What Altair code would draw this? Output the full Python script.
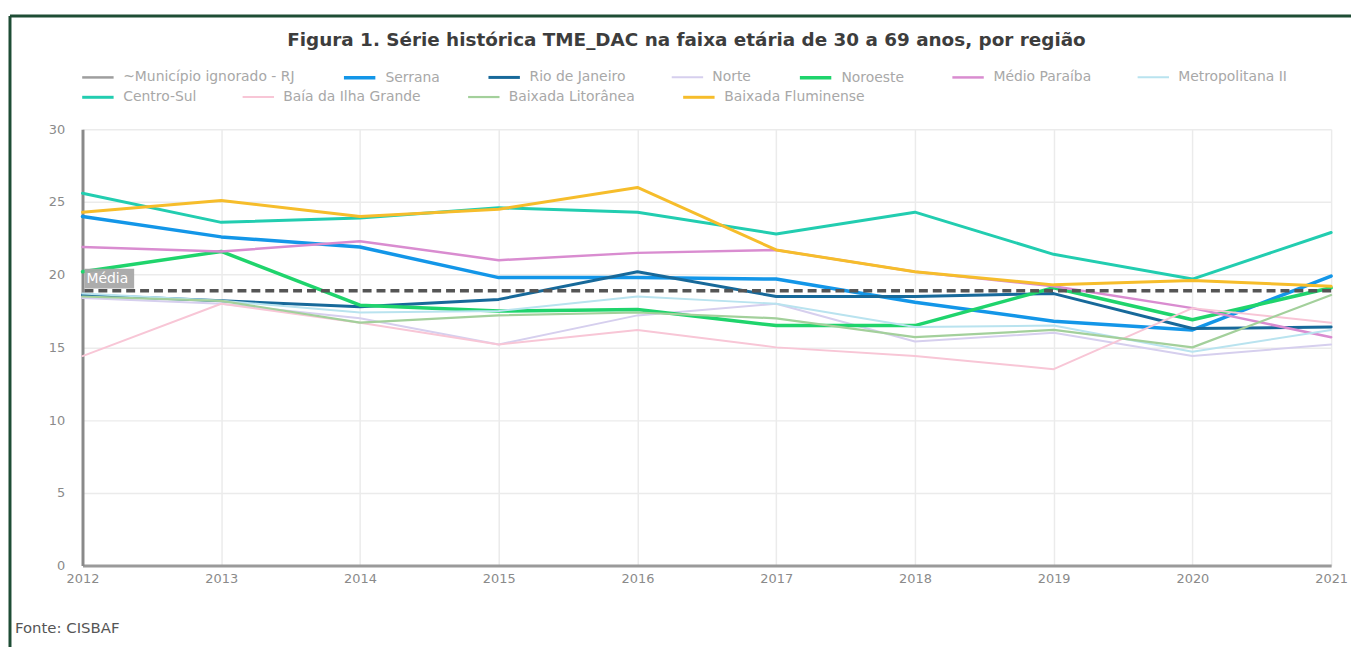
import altair as alt
import pandas as pd

years = [2012, 2013, 2014, 2015, 2016, 2017, 2018, 2019, 2020, 2021]

legend_row1 = ["~Município ignorado - RJ", "Serrana", "Rio de Janeiro", "Norte",
               "Noroeste", "Médio Paraíba", "Metropolitana II"]
legend_row2 = ["Centro-Sul", "Baía da Ilha Grande", "Baixada Litorânea",
               "Baixada Fluminense"]

serrana = [24.0, 22.6, 21.9, 19.8, 19.8, 19.7, 18.1, 16.8, 16.2, 19.9]
rio_de_janeiro = [18.6, 18.2, 17.8, 18.3, 20.2, 18.5, 18.5, 18.7, 16.3, 16.4]
norte = [18.4, 18.0, 17.0, 15.2, 17.2, 18.0, 15.4, 16.0, 14.4, 15.2]
noroeste = [20.2, 21.6, 17.9, 17.5, 17.6, 16.5, 16.5, 19.1, 16.9, 19.1]
medio_paraiba = [21.9, 21.6, 22.3, 21.0, 21.5, 21.7, 20.2, 19.2, 17.7, 15.7]
metropolitana_ii = [18.7, 18.2, 17.4, 17.5, 18.5, 18.0, 16.4, 16.5, 14.7, 16.2]
centro_sul = [25.6, 23.6, 23.9, 24.6, 24.3, 22.8, 24.3, 21.4, 19.7, 22.9]
baia_ilha_grande = [14.4, 18.0, 16.7, 15.2, 16.2, 15.0, 14.4, 13.5, 17.7, 16.7]
baixada_litoranea = [18.5, 18.2, 16.7, 17.2, 17.4, 17.0, 15.7, 16.2, 15.0, 18.6]
baixada_fluminense = [24.3, 25.1, 24.0, 24.5, 26.0, 21.7, 20.2, 19.3, 19.6, 19.2]

media = 18.9

title_text = "Figura 1. Série histórica TME_DAC  na faixa etária de 30 a 69 anos, por região"
source_text = "Fonte: CISBAF"

values_row1 = {
    "Serrana": serrana,
    "Rio de Janeiro": rio_de_janeiro,
    "Norte": norte,
    "Noroeste": noroeste,
    "Médio Paraíba": medio_paraiba,
    "Metropolitana II": metropolitana_ii,
}
values_row2 = {
    "Centro-Sul": centro_sul,
    "Baía da Ilha Grande": baia_ilha_grande,
    "Baixada Litorânea": baixada_litoranea,
    "Baixada Fluminense": baixada_fluminense,
}

colors_row1 = ["#9e9e9e", "#1396e8", "#17699a", "#d6cfee", "#1fd46c", "#d98cd0", "#b9e3ef"]
colors_row2 = ["#22cdb0", "#f8c6d6", "#a3d09b", "#f6bd2b"]
widths_row1 = [2.5, 3.5, 3, 2, 3.5, 2.5, 2]
widths_row2 = [3, 2, 2.2, 3]


def long_df(d):
    rows = []
    for name, vals in d.items():
        for y, v in zip(years, vals):
            rows.append({"Ano": y, "Região": name, "Valor": v})
    return pd.DataFrame(rows)


df1 = long_df(values_row1)
df2 = long_df(values_row2)

W, H = 1257, 439
FONT = "DejaVu Sans"

x_enc = alt.X("Ano:Q", scale=alt.Scale(domain=[2012, 2021], nice=False),
              axis=alt.Axis(values=years, format="d", title=None, grid=True,
                            labelColor="#8a8a8a", labelFontSize=13, labelFont=FONT,
                            domainColor="#9a9a9a", domainWidth=3, ticks=False,
                            labelPadding=7, gridColor="#ebebeb", gridWidth=1.5,
                            labelFlush=False))
y_enc = alt.Y("Valor:Q", scale=alt.Scale(domain=[0, 30], nice=False),
              axis=alt.Axis(values=[0, 2.5, 5, 7.5, 10, 12.5, 15, 17.5, 20, 22.5, 25, 27.5, 30],
                            labelExpr="datum.value % 5 == 0 ? datum.label : ''",
                            title=None, labelColor="#8a8a8a", labelFontSize=13,
                            labelFont=FONT, domainColor="#8a8a8a", domainWidth=3,
                            ticks=False, labelPadding=18, gridColor="#ebebeb",
                            gridWidth=1.5))


def legend(ypos):
    return alt.Legend(title=None, orient="none", legendX=-2, legendY=ypos,
                      direction="horizontal", symbolType="stroke",
                      symbolSize=1000, symbolStrokeWidth=3,
                      labelColor="#a8a8a8", labelFontSize=14,
                      labelFont=FONT, columnPadding=42, labelOffset=8,
                      labelLimit=400)


lines1 = alt.Chart(df1).mark_line(strokeCap="round", strokeJoin="round").encode(
    x=x_enc, y=y_enc,
    color=alt.Color("Região:N", sort=legend_row1,
                    scale=alt.Scale(domain=legend_row1, range=colors_row1),
                    legend=legend(-70)),
    strokeWidth=alt.StrokeWidth("Região:N",
                                scale=alt.Scale(type="ordinal", domain=legend_row1,
                                                range=widths_row1),
                                legend=None),
    order=alt.Order("Ano:Q"),
)

lines2 = alt.Chart(df2).mark_line(strokeCap="round", strokeJoin="round").encode(
    x=x_enc, y=y_enc,
    color=alt.Color("Região2:N", sort=legend_row2,
                    scale=alt.Scale(domain=legend_row2, range=colors_row2),
                    legend=legend(-50)),
    strokeWidth=alt.StrokeWidth("Região2:N",
                                scale=alt.Scale(type="ordinal", domain=legend_row2,
                                                range=widths_row2),
                                legend=None),
    order=alt.Order("Ano:Q"),
).transform_calculate(Região2="datum['Região']")

media_df = pd.DataFrame({"media": [media]})

rule = alt.Chart(media_df).mark_rule(color="#555555", strokeWidth=3.5,
                                     strokeDash=[9, 5]).encode(y="media:Q")

label_box = alt.Chart(media_df).mark_rect(color="#a8a8a8", opacity=0.95).encode(
    x=alt.value(2), x2=alt.value(52),
    y=alt.Y("y1:Q"), y2="y2:Q",
).transform_calculate(y1="datum.media + 0.15", y2="datum.media + 1.5")

label_text = alt.Chart(media_df).mark_text(
    text="Média", color="white", fontSize=14, font=FONT, align="left",
    baseline="middle").encode(
    x=alt.value(4), y=alt.Y("ym:Q")
).transform_calculate(ym="datum.media + 0.82")

title = alt.Chart(media_df).mark_text(
    text=title_text, color="#3d3d3d", fontSize=18.5, font=FONT, fontWeight="bold",
    align="center", baseline="middle").encode(
    x=alt.value(608), y=alt.value(-90))

fonte = alt.Chart(media_df).mark_text(
    text=source_text, color="#555555", fontSize=15, font=FONT,
    align="left", baseline="middle").encode(
    x=alt.value(-68), y=alt.value(H + 63))

frame_top = alt.Chart(media_df).mark_rule(color="#1e4d35", strokeWidth=3).encode(
    x=alt.value(-73), x2=alt.value(W + 30), y=alt.value(-114))
frame_left = alt.Chart(media_df).mark_rule(color="#1e4d35", strokeWidth=3).encode(
    x=alt.value(-73), y=alt.value(-114), y2=alt.value(H + 100))

chart = alt.layer(lines1, lines2, rule, label_box, label_text, title, fonte,
                  frame_top, frame_left).resolve_scale(
    color="independent", strokeWidth="independent"
).properties(
    width=W, height=H,
    autosize=alt.AutoSizeParams(type="none"),
    padding={"left": 75, "top": 120, "right": 20, "bottom": 80},
    background="white",
).configure_view(stroke=None)

chart.save("out.html", embed_options={"renderer": "svg", "actions": False})
